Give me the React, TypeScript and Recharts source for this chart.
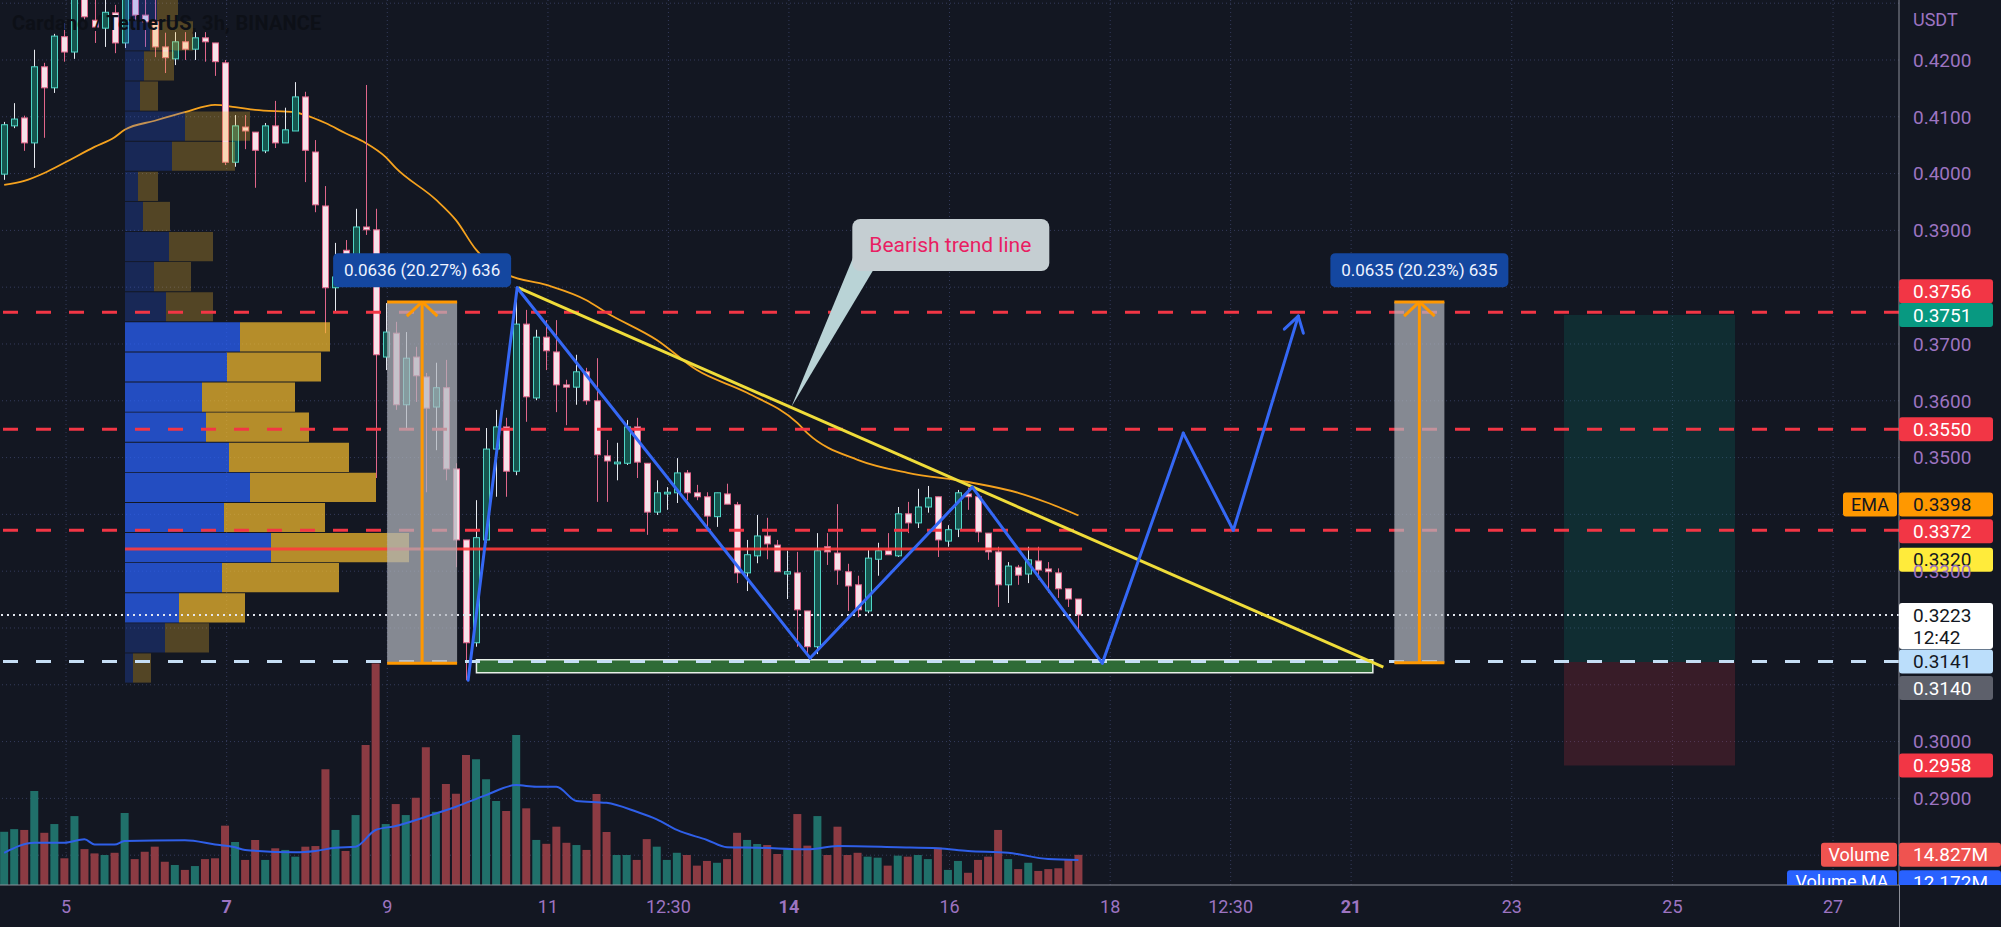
import React from 'react';
import {
  ComposedChart, XAxis, YAxis, Bar, Line, Cell, ReferenceLine, ReferenceArea, ReferenceDot,
} from 'recharts';

// ADA/USDT, 3h candles, Binance
const START_DAY = 4.23;
const BAR_DAYS = 0.125;

const OPEN = [
  0.3999, 0.4084, 0.4098, 0.4054, 0.4188, 0.4151, 0.4241, 0.4214, 0.4323, 0.4270,
  0.4256, 0.4283, 0.4230, 0.4314, 0.4279, 0.4267, 0.4223, 0.4202, 0.4232, 0.4219,
  0.4239, 0.4230, 0.4195, 0.4020, 0.4082, 0.4073, 0.4040, 0.4084, 0.4054, 0.4075,
  0.4135, 0.4038, 0.3943, 0.3799, 0.3865, 0.3857, 0.3906, 0.3901, 0.3677, 0.3719,
  0.3593, 0.3677, 0.3642, 0.3589, 0.3623, 0.3480, 0.3355, 0.3174, 0.3355, 0.3515,
  0.3554, 0.3476, 0.3735, 0.3605, 0.3712, 0.3686, 0.3628, 0.3624, 0.3651, 0.3600,
  0.3503, 0.3489, 0.3490, 0.3554, 0.3490, 0.3404, 0.3436, 0.3438, 0.3473, 0.3438,
  0.3431, 0.3396, 0.3436, 0.3417, 0.3297, 0.3327, 0.3362, 0.3346, 0.3295, 0.3297,
  0.3230, 0.3167, 0.3343, 0.3332, 0.3299, 0.3276, 0.3230, 0.3321, 0.3336, 0.3327,
  0.3401, 0.3385, 0.3413, 0.3431, 0.3353, 0.3374, 0.3436, 0.3431, 0.3367, 0.3334,
  0.3276, 0.3307, 0.3295, 0.3318, 0.3304, 0.3297, 0.3269, 0.3251,
];
const HIGH = [
  0.4091, 0.4124, 0.4102, 0.4218, 0.4195, 0.4246, 0.4265, 0.4323, 0.4332, 0.4306,
  0.4306, 0.4297, 0.4323, 0.4323, 0.4306, 0.4306, 0.4248, 0.4249, 0.4249, 0.4249,
  0.4249, 0.4230, 0.4200, 0.4103, 0.4103, 0.4073, 0.4089, 0.4128, 0.4116, 0.4161,
  0.4144, 0.4059, 0.3978, 0.3878, 0.3883, 0.3938, 0.4156, 0.3938, 0.3772, 0.3739,
  0.3721, 0.3695, 0.3649, 0.3667, 0.3672, 0.3490, 0.3355, 0.3425, 0.3552, 0.3584,
  0.3570, 0.3799, 0.3760, 0.3725, 0.3742, 0.3742, 0.3637, 0.3681, 0.3658, 0.3675,
  0.3531, 0.3526, 0.3566, 0.3570, 0.3490, 0.3460, 0.3448, 0.3499, 0.3478, 0.3452,
  0.3439, 0.3438, 0.3454, 0.3422, 0.3355, 0.3399, 0.3394, 0.3355, 0.3336, 0.3334,
  0.3230, 0.3367, 0.3367, 0.3418, 0.3313, 0.3292, 0.3337, 0.3350, 0.3367, 0.3413,
  0.3422, 0.3445, 0.3450, 0.3431, 0.3381, 0.3443, 0.3447, 0.3434, 0.3367, 0.3343,
  0.3316, 0.3311, 0.3343, 0.3343, 0.3316, 0.3305, 0.3269, 0.3251,
];
const LOW = [
  0.3989, 0.4080, 0.4040, 0.4010, 0.4063, 0.4142, 0.4197, 0.4202, 0.4270, 0.4230,
  0.4223, 0.4212, 0.4221, 0.4270, 0.4223, 0.4205, 0.4177, 0.4191, 0.4200, 0.4200,
  0.4197, 0.4172, 0.4015, 0.4012, 0.4043, 0.3975, 0.4036, 0.4045, 0.4054, 0.4075,
  0.3985, 0.3932, 0.3719, 0.3756, 0.3821, 0.3844, 0.3892, 0.3464, 0.3654, 0.3584,
  0.3549, 0.3598, 0.3439, 0.3513, 0.3460, 0.3307, 0.3108, 0.3167, 0.3350, 0.3431,
  0.3431, 0.3469, 0.3563, 0.3601, 0.3654, 0.3580, 0.3557, 0.3593, 0.3593, 0.3422,
  0.3422, 0.3460, 0.3487, 0.3464, 0.3364, 0.3399, 0.3408, 0.3420, 0.3425, 0.3425,
  0.3378, 0.3378, 0.3418, 0.3279, 0.3265, 0.3314, 0.3321, 0.3299, 0.3251, 0.3167,
  0.3156, 0.3154, 0.3311, 0.3276, 0.3230, 0.3219, 0.3226, 0.3292, 0.3329, 0.3325,
  0.3367, 0.3376, 0.3403, 0.3325, 0.3343, 0.3360, 0.3408, 0.3351, 0.3320, 0.3237,
  0.3244, 0.3276, 0.3279, 0.3285, 0.3262, 0.3253, 0.3237, 0.3191,
];
const CLOSE = [
  0.4086, 0.4096, 0.4054, 0.4188, 0.4151, 0.4242, 0.4214, 0.4320, 0.4276, 0.4258,
  0.4284, 0.4230, 0.4314, 0.4279, 0.4267, 0.4223, 0.4204, 0.4232, 0.4219, 0.4239,
  0.4232, 0.4197, 0.4020, 0.4084, 0.4075, 0.4041, 0.4084, 0.4054, 0.4077, 0.4135,
  0.4041, 0.3945, 0.3799, 0.3818, 0.3844, 0.3906, 0.3901, 0.3681, 0.3721, 0.3593,
  0.3675, 0.3644, 0.3587, 0.3623, 0.3480, 0.3355, 0.3174, 0.3359, 0.3515, 0.3554,
  0.3476, 0.3735, 0.3607, 0.3712, 0.3688, 0.3628, 0.3624, 0.3651, 0.3600, 0.3505,
  0.3494, 0.3492, 0.3554, 0.3492, 0.3404, 0.3438, 0.3439, 0.3473, 0.3438, 0.3431,
  0.3397, 0.3438, 0.3418, 0.3297, 0.3329, 0.3362, 0.3348, 0.3299, 0.3299, 0.3232,
  0.3167, 0.3336, 0.3334, 0.3302, 0.3274, 0.3232, 0.3323, 0.3336, 0.3329, 0.3401,
  0.3385, 0.3413, 0.3429, 0.3355, 0.3373, 0.3438, 0.3431, 0.3369, 0.3334, 0.3276,
  0.3309, 0.3293, 0.3320, 0.3302, 0.3299, 0.3269, 0.3251, 0.3223,
];
// volume in millions ADA
const VOLUME = [
  26.1, 27.4, 27.0, 46.1, 25.6, 29.9, 13.1, 33.8, 17.6, 15.5,
  14.7, 15.8, 35.3, 12.7, 16.3, 18.8, 11.4, 9.8, 7.4, 9.3,
  12.7, 13.1, 29.1, 21.1, 12.3, 22.1, 12.3, 18.0, 17.2, 13.9,
  18.8, 19.1, 56.8, 27.0, 16.7, 34.3, 68.6, 108.6, 29.9, 39.7,
  34.3, 42.8, 67.6, 35.9, 49.5, 44.7, 63.7, 61.7, 51.9, 41.2,
  36.3, 73.5, 37.6, 22.1, 20.2, 28.6, 20.7, 19.6, 17.2, 44.6,
  26.0, 14.7, 14.7, 12.3, 22.5, 18.8, 12.3, 15.8, 14.7, 9.5,
  11.8, 10.9, 12.7, 25.6, 22.1, 20.1, 19.6, 15.2, 17.5, 34.8,
  19.3, 33.8, 14.7, 28.6, 14.7, 15.8, 13.9, 13.4, 9.5, 14.4,
  13.9, 14.7, 12.7, 18.3, 7.4, 11.8, 6.0, 12.3, 13.9, 27.0,
  12.7, 7.8, 10.9, 6.9, 7.8, 8.2, 12.3, 14.8,
];

// EMA read at some bars (bar index -> value)
const EMA_AT = [0, 2, 4, 6, 9, 11, 12, 15, 18, 21, 23, 25, 29, 30, 32, 34, 36, 38, 39, 43, 45, 47, 50, 54, 58, 60, 65, 69, 74, 79, 80, 85, 90, 96, 101, 104, 107];
const EMA = [0.3980, 0.3987, 0.4001, 0.4019, 0.4047, 0.4064, 0.4077, 0.4093, 0.4108, 0.4121, 0.4117, 0.4112, 0.4108, 0.4103, 0.4089, 0.4071, 0.4054, 0.4029, 0.4010, 0.3954, 0.3918, 0.3866, 0.3823, 0.3804, 0.3777, 0.3755, 0.3707, 0.3654, 0.3614, 0.3561, 0.3543, 0.3496, 0.3473, 0.3457, 0.3438, 0.3420, 0.3398];
// volume MA read at some bars
const VMA_AT = [0, 3, 6, 8, 9, 11, 12, 18, 21, 23, 24, 29, 31, 33, 35, 37, 39, 42, 45, 48, 51, 53, 55, 57, 60, 63, 65, 67, 70, 72, 75, 80, 83, 89, 93, 96, 100, 104, 107];
const VMA = [15.8, 20.7, 20.7, 22.4, 19.9, 19.8, 21.6, 21.9, 19.9, 18.5, 17.2, 16.0, 16.7, 18.3, 18.8, 27.0, 28.9, 33.5, 38.4, 44.1, 49.0, 48.2, 48.2, 41.2, 40.3, 35.9, 32.2, 27.0, 22.1, 18.5, 18.3, 17.5, 19.1, 18.5, 18.0, 16.7, 15.8, 12.7, 12.2];

// volume profile, rows from bottom to top
const PROFILE_BASE = 0.3103;
const PROFILE_ROW = 0.0053;
const PROFILE_UP = [16, 80, 108, 194, 292, 198, 250, 208, 162, 154, 204, 230, 82, 58, 88, 36, 26, 94, 120, 30, 38, 50, 64];
const PROFILE_DOWN = [36, 88, 132, 234, 276, 202, 252, 240, 206, 186, 188, 180, 94, 74, 88, 54, 40, 126, 130, 36, 60, 86, 42];
const VALUE_AREA = [2, 11];
const POC = 0.3339;

// axes
const DAY_TICKS = [5, 7, 9, 11, 12.5, 14, 16, 18, 19.5, 21, 23, 25, 27];
const DAY_LABELS = ['5', '7', '9', '11', '12:30', '14', '16', '18', '12:30', '21', '23', '25', '27'];
const BOLD_DAYS = [7, 14, 21];
const PRICE_TICKS = [0.29, 0.30, 0.33, 0.35, 0.36, 0.37, 0.39, 0.40, 0.41, 0.42];
const GRID_PRICES = [0.28, 0.29, 0.30, 0.31, 0.32, 0.33, 0.34, 0.35, 0.36, 0.37, 0.38, 0.39, 0.40, 0.41, 0.42, 0.43];

// levels and drawings
const RED_LEVELS = [0.3756, 0.3550, 0.3372];
const SUPPORT = 0.3141;
const LAST_PRICE = 0.3223;
const ZONE_DAYS = [10.11, 21.27];
const ZONE_PRICES = [0.3121, 0.3144];
const TREND = [[10.629, 0.3799], [21.401, 0.3131]];
const ZIGZAG = [[10.006, 0.3108], [10.617, 0.3799], [14.265, 0.3147], [16.283, 0.3448], [17.902, 0.3138], [18.910, 0.3543], [19.533, 0.3372], [20.342, 0.3749]];
const ZIGZAG_HEAD = [[20.168, 0.3726], [20.405, 0.3719]];
const RANGE_FROM = [8.998, 21.538];
const RANGE_TO = [9.869, 22.161];
const RANGE_LOW = [0.3138, 0.3139];
const RANGE_HIGH = [0.3774, 0.3774];
const RANGE_TEXT = ['0.0636 (20.27%) 636', '0.0635 (20.23%) 635'];
const RANGE_LABEL_PRICE = 0.3830;
const LONG_DAYS = [23.65, 25.78];
const LONG_ENTRY = 0.3140;
const LONG_TARGET = 0.3751;
const LONG_STOP = 0.2958;
const CALLOUT_AT = [14.03, 0.3589];
const CALLOUT_TEXT = 'Bearish trend line';

const PRICE_BADGES = [
  { price: 0.3756, text: '0.3756', bg: '#f23645', fg: '#ffffff', shift: -21 },
  { price: 0.3751, text: '0.3751', bg: '#089981', fg: '#ffffff', shift: 0 },
  { price: 0.3550, text: '0.3550', bg: '#f23645', fg: '#ffffff', shift: 0 },
  { price: 0.3398, text: '0.3398', bg: '#ff9800', fg: '#131722', shift: -11, tag: 'EMA', tagWidth: 54 },
  { price: 0.3372, text: '0.3372', bg: '#f23645', fg: '#ffffff', shift: 1 },
  { price: 0.3320, text: '0.3320', bg: '#ffeb3b', fg: '#131722', shift: 0 },
  { price: 0.3141, text: '0.3141', bg: '#bbdefb', fg: '#131722', shift: 0 },
  { price: 0.3140, text: '0.3140', bg: '#5d606b', fg: '#ffffff', shift: 26 },
  { price: 0.2958, text: '0.2958', bg: '#f23645', fg: '#ffffff', shift: 0 },
];
const VOLUME_BADGES = [
  { value: 14.827, text: '14.827M', bg: '#ef5350', fg: '#ffffff', shift: 0, tag: 'Volume', tagWidth: 76 },
  { value: 12.172, text: '12.172M', bg: '#2962ff', fg: '#ffffff', shift: 22, tag: 'Volume MA', tagWidth: 110 },
];

const X_MIN = 4.178;
const X_MAX = 27.821;
const Y_MIN = 0.27475;
const Y_MAX = 0.43056;
const VOL_MAX = 434;
const VP_MIN = -250;
const VP_MAX = 3548;

const FONT = 'Roboto, "Noto Sans", sans-serif';
const BG = '#131722';
const PURPLE = '#9d74c1';
const GRID = '#353c5c';
const AXIS = '#8c8f99';
const UP_BODY = '#16564f';
const UP_BORDER = '#4fd6c7';
const UP_WICK = '#e6e9ef';
const DN_BODY = '#f6e2e9';
const DN_BORDER = '#e0668a';
const VOL_UP = '#20706a';
const VOL_DN = '#8c3b43';

const rows = OPEN.map((o, i) => ({
  t: START_DAY + i * BAR_DAYS,
  o,
  h: HIGH[i],
  l: LOW[i],
  c: CLOSE[i],
  v: VOLUME[i],
}));
const emaRows = EMA_AT.map((b, i) => ({ t: START_DAY + b * BAR_DAYS, ema: EMA[i] }));
const vmaRows = VMA_AT.map((b, i) => ({ t: START_DAY + b * BAR_DAYS, vma: VMA[i] }));

function Candle(props: any) {
  const { x, y, width, height, payload } = props;
  if (!payload || height == null) return null;
  const { o, h, l, c } = payload;
  const up = c >= o;
  const span = h - l || 1e-9;
  const at = (v: number) => y + ((h - v) / span) * height;
  const cx = Math.round(x + width / 2) + 0.5;
  const top = at(Math.max(o, c));
  const bottom = at(Math.min(o, c));
  return (
    <g>
      <line x1={cx} x2={cx} y1={y} y2={y + height} stroke={up ? UP_WICK : DN_BORDER} strokeWidth={1} />
      <rect x={cx - 3} y={top} width={6} height={Math.max(bottom - top, 1)}
        fill={up ? UP_BODY : DN_BODY} stroke={up ? UP_BORDER : DN_BORDER} strokeWidth={1} />
    </g>
  );
}

const dayTick = (p: any) => {
  const v = p.payload.value;
  const label = DAY_LABELS[DAY_TICKS.indexOf(v)];
  return (
    <text x={p.x} y={p.y} dy={20} textAnchor="middle" fill={PURPLE} fontSize={18}
      fontWeight={BOLD_DAYS.includes(v) ? 700 : 400} fontFamily={FONT}>{label}</text>
  );
};

const badge = (b: any, width: number) => (p: any) => {
  const y = p.cy + b.shift;
  return (
    <svg x={0} y={0} width={2001} height={885} overflow="hidden">
      {b.tag && (
        <g>
          <rect x={p.cx - b.tagWidth - 2} y={y - 12} width={b.tagWidth} height={24} rx={3} fill={b.bg} />
          <text x={p.cx - b.tagWidth / 2 - 2} y={y} dy="0.35em" textAnchor="middle" fill={b.fg} fontSize={18} fontFamily={FONT}>{b.tag}</text>
        </g>
      )}
      <rect x={p.cx} y={y - 12} width={width} height={24} rx={3} fill={b.bg} />
      <text x={p.cx + 14} y={y} dy="0.35em" fill={b.fg} fontSize={19} fontFamily={FONT}>{b.text}</text>
    </svg>
  );
};

const lastBadge = (p: any) => (
  <g>
    <rect x={p.cx} y={p.cy - 12} width={94} height={46} rx={3} fill="#ffffff" />
    <text x={p.cx + 14} y={p.cy} dy="0.35em" fill="#131722" fontSize={19} fontFamily={FONT}>{LAST_PRICE.toFixed(4)}</text>
    <text x={p.cx + 14} y={p.cy + 22} dy="0.35em" fill="#131722" fontSize={19} fontFamily={FONT}>12:42</text>
  </g>
);

const rangeLabel = (text: string) => (p: any) => (
  <g>
    <rect x={p.cx - 89} y={p.cy - 17} width={178} height={34} rx={5} fill="#1447a0" />
    <text x={p.cx} y={p.cy} dy="0.35em" textAnchor="middle" fill="#eef3ff" fontSize={17} fontFamily={FONT}>{text}</text>
  </g>
);

const callout = (p: any) => {
  const { cx, cy } = p;
  return (
    <g>
      <path d={`M${cx + 62},${cy - 150} L${cx + 82},${cy - 137} L${cx},${cy} Z`} fill="#b9d3d6" />
      <rect x={cx + 61} y={cy - 188} width={197} height={52} rx={8} fill="#c5ced2" />
      <text x={cx + 159} y={cy - 162} dy="0.35em" textAnchor="middle" fill="#e91e63" fontSize={21} fontFamily={FONT}>{CALLOUT_TEXT}</text>
    </g>
  );
};

const ids = { xAxisId: 't', yAxisId: 'price' };

export default function App() {
  const segments = (pts: number[][]) =>
    pts.slice(1).map((p, i) => [{ x: pts[i][0], y: pts[i][1] }, { x: p[0], y: p[1] }]);
  const tip = ZIGZAG[ZIGZAG.length - 1];

  return (
    <div style={{ position: 'relative', width: 2001, height: 927, background: BG, fontFamily: FONT }}>
      <style>{`body{margin:0;background:${BG};}`}</style>
      <ComposedChart width={2001} height={927} data={rows} margin={{ top: 0, right: 0, bottom: 0, left: 0 }}>
        <XAxis xAxisId="t" dataKey="t" type="number" domain={[X_MIN, X_MAX]} allowDataOverflow
          ticks={DAY_TICKS} interval={0} height={42} axisLine={{ stroke: AXIS }} tickLine={false} tick={dayTick} />
        <XAxis xAxisId="tv" dataKey="t" type="number" domain={[X_MIN, X_MAX]} allowDataOverflow hide />
        <XAxis xAxisId="vp" dataKey="t" type="number" domain={[VP_MIN, VP_MAX]} allowDataOverflow hide />
        <YAxis yAxisId="price" orientation="right" type="number" domain={[Y_MIN, Y_MAX]} allowDataOverflow
          ticks={PRICE_TICKS} interval={0} width={102} axisLine={{ stroke: AXIS }} tickLine={false} tickMargin={8}
          tick={{ fill: PURPLE, fontSize: 19, fontFamily: FONT }} tickFormatter={(v: number) => v.toFixed(4)} />
        <YAxis yAxisId="vol" type="number" domain={[0, VOL_MAX]} allowDataOverflow hide />

        {/* dotted grid */}
        {DAY_TICKS.map((d) => (
          <ReferenceLine key={`gx${d}`} {...ids} x={d} stroke={GRID} strokeDasharray="1 3" zIndex={10} />
        ))}
        {GRID_PRICES.map((p) => (
          <ReferenceLine key={`gy${p}`} {...ids} y={p} stroke={GRID} strokeDasharray="1 3" zIndex={10} />
        ))}

        {/* long position tool */}
        <ReferenceArea {...ids} x1={LONG_DAYS[0]} x2={LONG_DAYS[1]} y1={LONG_ENTRY} y2={LONG_TARGET}
          fill="#089981" fillOpacity={0.17} ifOverflow="hidden" zIndex={20} />
        <ReferenceArea {...ids} x1={LONG_DAYS[0]} x2={LONG_DAYS[1]} y1={LONG_STOP} y2={LONG_ENTRY}
          fill="#f23645" fillOpacity={0.17} ifOverflow="hidden" zIndex={20} />

        <Bar xAxisId="tv" yAxisId="vol" dataKey="v" barSize={8} isAnimationActive={false} zIndex={30}>
          {rows.map((r, i) => <Cell key={i} fill={r.c >= r.o ? VOL_UP : VOL_DN} />)}
        </Bar>
        <Line xAxisId="tv" yAxisId="vol" data={vmaRows} dataKey="vma" type="monotone" dot={false} activeDot={false}
          stroke="#2f5fe8" strokeWidth={2} isAnimationActive={false} zIndex={35} />
        <Line {...ids} data={emaRows} dataKey="ema" type="monotone" dot={false} activeDot={false}
          stroke="#f5a21e" strokeWidth={1.8} isAnimationActive={false} zIndex={40} />
        <Bar {...ids} dataKey={(r: any) => [r.l, r.h]} barSize={8} shape={Candle} isAnimationActive={false} zIndex={50} />

        {/* volume profile */}
        {PROFILE_UP.map((up, k) => {
          const inVA = k >= VALUE_AREA[0] && k <= VALUE_AREA[1];
          const lo = PROFILE_BASE + k * PROFILE_ROW + 0.00008;
          const hi = PROFILE_BASE + (k + 1) * PROFILE_ROW - 0.00008;
          return [
            <ReferenceArea key={`pu${k}`} xAxisId="vp" yAxisId="price" x1={0} x2={up} y1={lo} y2={hi}
              fill="#2962ff" fillOpacity={inVA ? 0.72 : 0.24} ifOverflow="hidden" zIndex={60} />,
            <ReferenceArea key={`pd${k}`} xAxisId="vp" yAxisId="price" x1={up} x2={up + PROFILE_DOWN[k]} y1={lo} y2={hi}
              fill="#fbc02d" fillOpacity={inVA ? 0.7 : 0.28} ifOverflow="hidden" zIndex={60} />,
          ];
        })}
        <ReferenceLine {...ids} segment={[{ x: 5.735, y: POC }, { x: 17.65, y: POC }]}
          stroke="#ff3b3b" strokeOpacity={0.9} strokeWidth={3} ifOverflow="hidden" zIndex={65} />

        {/* support zone */}
        <ReferenceArea {...ids} x1={ZONE_DAYS[0]} x2={ZONE_DAYS[1]} y1={ZONE_PRICES[0]} y2={ZONE_PRICES[1]}
          fill="#2e6b36" fillOpacity={1} stroke="#e8f0e8" strokeWidth={1.5} ifOverflow="hidden" zIndex={70} />

        {/* horizontal levels */}
        {RED_LEVELS.map((p) => (
          <ReferenceLine key={`r${p}`} {...ids} y={p} stroke="#f23645" strokeWidth={3} strokeDasharray="15 18" zIndex={75} />
        ))}
        <ReferenceLine {...ids} y={SUPPORT} stroke="#c6def5" strokeWidth={3} strokeDasharray="15 18" zIndex={75} />
        <ReferenceLine {...ids} y={LAST_PRICE} stroke="#e3e6ee" strokeWidth={2} strokeDasharray="2 4" zIndex={75} />

        {/* price range measurements */}
        {RANGE_FROM.map((from, k) => {
          const to = RANGE_TO[k];
          const mid = (from + to) / 2;
          const lo = RANGE_LOW[k];
          const hi = RANGE_HIGH[k];
          return [
            <ReferenceArea key={`ra${k}`} {...ids} x1={from} x2={to} y1={lo} y2={hi}
              fill="#b2b5be" fillOpacity={0.72} ifOverflow="hidden" zIndex={80} />,
            <ReferenceLine key={`rt${k}`} {...ids} segment={[{ x: from, y: hi }, { x: to, y: hi }]} stroke="#ff9800" strokeWidth={3} zIndex={85} />,
            <ReferenceLine key={`rb${k}`} {...ids} segment={[{ x: from, y: lo }, { x: to, y: lo }]} stroke="#ff9800" strokeWidth={3} zIndex={85} />,
            <ReferenceLine key={`rv${k}`} {...ids} segment={[{ x: mid, y: lo }, { x: mid, y: hi }]} stroke="#ff9800" strokeWidth={3} zIndex={85} />,
            <ReferenceLine key={`rh1${k}`} {...ids} segment={[{ x: mid, y: hi }, { x: mid - 0.19, y: hi - 0.0025 }]} stroke="#ff9800" strokeWidth={3} zIndex={85} />,
            <ReferenceLine key={`rh2${k}`} {...ids} segment={[{ x: mid, y: hi }, { x: mid + 0.19, y: hi - 0.0025 }]} stroke="#ff9800" strokeWidth={3} zIndex={85} />,
            <ReferenceDot key={`rl${k}`} {...ids} x={mid} y={RANGE_LABEL_PRICE} r={0} shape={rangeLabel(RANGE_TEXT[k])} ifOverflow="visible" zIndex={100} />,
          ];
        })}

        {/* trend line and projected path */}
        {segments(TREND).map((s, i) => (
          <ReferenceLine key={`t${i}`} {...ids} segment={s} stroke="#efdc3a" strokeWidth={3} ifOverflow="hidden" zIndex={90} />
        ))}
        {segments(ZIGZAG).map((s, i) => (
          <ReferenceLine key={`z${i}`} {...ids} segment={s} stroke="#3568f5" strokeWidth={3} strokeLinecap="round" ifOverflow="hidden" zIndex={95} />
        ))}
        {ZIGZAG_HEAD.map((h, i) => (
          <ReferenceLine key={`zh${i}`} {...ids} segment={[{ x: tip[0], y: tip[1] }, { x: h[0], y: h[1] }]}
            stroke="#3568f5" strokeWidth={3} strokeLinecap="round" ifOverflow="hidden" zIndex={95} />
        ))}

        <ReferenceDot {...ids} x={CALLOUT_AT[0]} y={CALLOUT_AT[1]} r={0} shape={callout} ifOverflow="visible" zIndex={100} />

        {/* axis badges */}
        {PRICE_BADGES.map((b) => (
          <ReferenceDot key={`b${b.text}`} {...ids} x={X_MAX} y={b.price} r={0} shape={badge(b, 94)} ifOverflow="visible" zIndex={900} />
        ))}
        <ReferenceDot {...ids} x={X_MAX} y={LAST_PRICE} r={0} shape={lastBadge} ifOverflow="visible" zIndex={900} />
        {VOLUME_BADGES.map((b) => (
          <ReferenceDot key={`vb${b.text}`} xAxisId="tv" yAxisId="vol" x={X_MAX} y={b.value} r={0} shape={badge(b, 102)} ifOverflow="visible" zIndex={900} />
        ))}
      </ComposedChart>
      <div style={{ position: 'absolute', left: 12, top: 11, fontSize: 20, fontWeight: 700, color: '#0d1017', letterSpacing: 0.2 }}>
        Cardano / TetherUS, 3h, BINANCE
      </div>
      <div style={{ position: 'absolute', left: 1913, top: 9, fontSize: 18, color: PURPLE }}>USDT</div>
      <div style={{ position: 'absolute', left: 1899, top: 885, width: 1, height: 42, background: AXIS }} />
    </div>
  );
}
